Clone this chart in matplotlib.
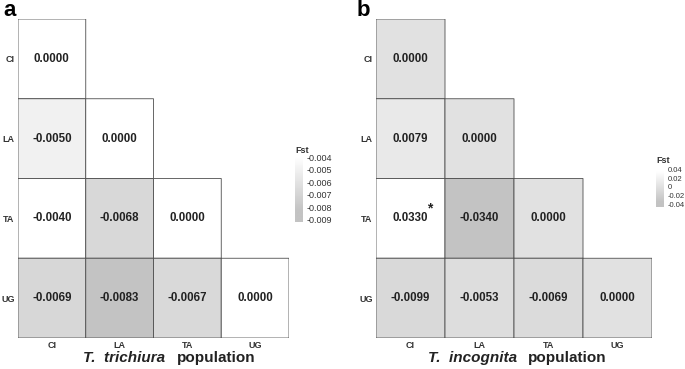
import numpy as np
import matplotlib.pyplot as plt
from matplotlib.colors import LinearSegmentedColormap, Normalize

plt.rcParams['font.family'] = ['Liberation Sans', 'DejaVu Sans']

pops = ["CI", "LA", "TA", "UG"]

# lower triangle, row by row (CI, LA, TA, UG)
fst_trichiura = [[0.0000],
                 [-0.0050, 0.0000],
                 [-0.0040, -0.0068, 0.0000],
                 [-0.0069, -0.0083, -0.0067, 0.0000]]
fst_incognita = [[0.0000],
                 [0.0079, 0.0000],
                 [0.0330, -0.0340, 0.0000],
                 [-0.0099, -0.0053, -0.0069, 0.0000]]
signif_incognita = [("TA", "CI")]

leg_ticks_a = [-0.004, -0.005, -0.006, -0.007, -0.008, -0.009]
leg_ticks_b = [0.04, 0.02, 0, -0.02, -0.04]

cmap = LinearSegmentedColormap.from_list("fst", ["#c3c3c3", "#ffffff"])


def to_matrix(rows):
    m = np.full((4, 4), np.nan)
    for i, r in enumerate(rows):
        m[i, :len(r)] = r
    return np.ma.masked_invalid(m)


def draw_panel(ax, rows, norm, stars=()):
    m = to_matrix(rows)
    ax.pcolor(np.arange(5), np.arange(5), m, cmap=cmap, norm=norm,
              edgecolors="#4d4d4d", linewidth=0.6)
    for i, r in enumerate(rows):
        for j, v in enumerate(r):
            ax.text(j + 0.5, i + 0.5, f"{v:.4f}", ha="center", va="center",
                    fontsize=8.3, fontweight="bold", color="#222222")
    for rname, cname in stars:
        i, j = pops.index(rname), pops.index(cname)
        ax.text(j + 0.78, i + 0.37, "*", ha="center", va="center",
                fontsize=10, fontweight="bold", color="#222222")
    ax.set_xlim(0, 4)
    ax.set_ylim(4, 0)
    ax.set_xticks(np.arange(4) + 0.5, pops)
    ax.set_yticks(np.arange(4) + 0.5, pops)
    ax.tick_params(length=0, labelsize=6.5, colors="#333333", pad=2.5)
    for lab in ax.get_xticklabels() + ax.get_yticklabels():
        lab.set_fontweight("bold")
    for s in ax.spines.values():
        s.set_visible(False)


def draw_legend(cax, norm, lo, hi, ticks, ticklabels, fs):
    grad = np.linspace(lo, hi, 200).reshape(-1, 1)
    cax.imshow(grad, cmap=cmap, norm=norm, aspect="auto", origin="lower",
               extent=[0, 1, lo, hi])
    cax.set_xticks([])
    cax.yaxis.tick_right()
    cax.set_yticks(ticks, ticklabels)
    cax.tick_params(axis="y", length=2, width=0.5, colors="white",
                    labelcolor="#333333", labelsize=fs, pad=0.5)
    for s in cax.spines.values():
        s.set_visible(False)
    cax.set_title("Fst", fontsize=6.5, fontweight="bold", loc="left",
                  pad=2, color="#333333")


W, H = 685, 369
fig = plt.figure(figsize=(W / 100, H / 100), dpi=100)


def fax(x0, y0, x1, y1):
    return fig.add_axes([x0 / W, 1 - y1 / H, (x1 - x0) / W, (y1 - y0) / H])


# panel a
ax_a = fax(18, 19, 289, 338)
norm_a = Normalize(vmin=-0.0083, vmax=-0.0040, clip=True)
draw_panel(ax_a, fst_trichiura, norm_a)
cax_a = fax(295, 156, 303, 222)
draw_legend(cax_a, norm_a, -0.0092, -0.0039, leg_ticks_a,
            [f"{t:.3f}" for t in leg_ticks_a], 6.5)

# panel b
ax_b = fax(376, 19, 652, 338)
norm_b = Normalize(vmin=-0.0340, vmax=0.0330, clip=True)
draw_panel(ax_b, fst_incognita, norm_b, signif_incognita)
cax_b = fax(656, 166, 664, 207)
draw_legend(cax_b, norm_b, -0.045, 0.047, leg_ticks_b,
            ["0.04", "0.02", "0", "-0.02", "-0.04"], 5.5)

# axis titles
for xsplit, gap, species in [(165, 12, "T.  trichiura"), (517, 11, "T.  incognita")]:
    fig.text(xsplit / W, 1 - 358 / H, species, ha="right", va="center",
             fontsize=11, fontweight="bold", style="italic", color="#222222")
    fig.text((xsplit + gap) / W, 1 - 358 / H, "population", ha="left",
             va="center", fontsize=11, fontweight="bold", color="#222222")

fig.text(3 / W, 1 - 11 / H, "a", ha="left", va="center", fontsize=16,
         fontweight="bold")
fig.text(357 / W, 1 - 11 / H, "b", ha="left", va="center", fontsize=16,
         fontweight="bold")

fig.savefig("out.png", dpi=100)
